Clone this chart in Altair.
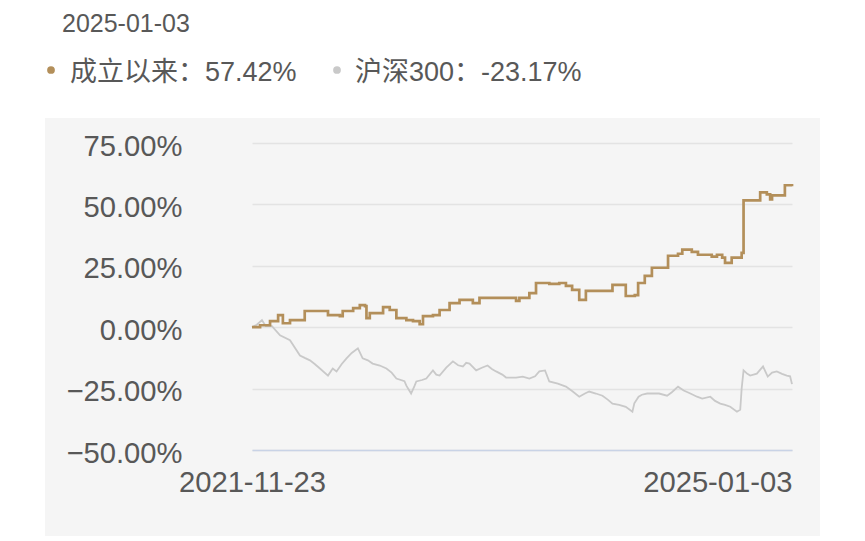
import altair as alt
import pandas as pd

header_date = "2025-01-03"
series_names = ["成立以来：57.42%", "沪深300：-23.17%"]
series_colors = ["#b38f5a", "#c9c9c9"]
y_ticks = [-50, -25, 0, 25, 50, 75]
x_ticks = ["2021-11-23", "2025-01-03"]

fund_dates = [
    "2021-11-23", "2021-12-10", "2021-12-31", "2022-01-17", "2022-01-27", "2022-02-11",
    "2022-03-14", "2022-04-15", "2022-05-02", "2022-05-27", "2022-06-02", "2022-06-24",
    "2022-07-08", "2022-07-19", "2022-07-22", "2022-07-29", "2022-08-12", "2022-08-26",
    "2022-09-09", "2022-09-23", "2022-10-14", "2022-10-28", "2022-11-11", "2022-11-18",
    "2022-12-09", "2022-12-23", "2023-01-13", "2023-02-03", "2023-03-03", "2023-03-17",
    "2023-05-12", "2023-06-02", "2023-06-09", "2023-06-30", "2023-07-14", "2023-08-11",
    "2023-09-01", "2023-09-15", "2023-09-28", "2023-10-13", "2023-10-27", "2023-12-15",
    "2023-12-22", "2024-01-12", "2024-01-19", "2024-02-07", "2024-02-14", "2024-02-28",
    "2024-03-14", "2024-04-10", "2024-04-17", "2024-05-08", "2024-05-17", "2024-06-06",
    "2024-06-19", "2024-07-18", "2024-07-29", "2024-08-09", "2024-08-15", "2024-08-29",
    "2024-09-11", "2024-09-19", "2024-09-23", "2024-10-21", "2024-10-28", "2024-11-11",
    "2024-11-18", "2024-11-22", "2024-12-13", "2024-12-19", "2025-01-03",
]
fund_values = [
    0.0, 0.8, 2.5, 4.9, 1.6, 2.9,
    6.6, 6.6, 4.9, 4.5, 6.6, 7.8,
    9.0, 8.6, 3.7, 5.7, 5.7, 8.2,
    7.0, 3.7, 2.9, 2.5, 1.2, 4.5,
    4.9, 7.0, 9.8, 11.1, 9.8, 11.9,
    11.9, 10.7, 11.9, 13.9, 18.0, 17.6,
    18.0, 16.8, 15.2, 11.1, 14.8, 14.8,
    17.2, 17.2, 12.7, 13.1, 18.0, 20.9,
    24.2, 24.2, 29.1, 29.9, 31.6, 30.7,
    29.5, 28.7, 29.5, 28.3, 26.2, 28.3,
    28.3, 30.3, 51.6, 51.6, 54.9, 54.1,
    52.0, 53.7, 53.7, 57.8, 57.42,
]

index_dates = [
    "2021-11-23", "2021-12-03", "2021-12-14", "2021-12-22", "2022-01-04", "2022-01-21",
    "2022-02-11", "2022-03-04", "2022-03-14", "2022-03-25", "2022-04-04", "2022-04-15",
    "2022-05-02", "2022-05-12", "2022-05-20", "2022-05-31", "2022-06-10", "2022-06-21",
    "2022-07-04", "2022-07-14", "2022-07-25", "2022-08-04", "2022-08-19", "2022-09-02",
    "2022-09-13", "2022-09-23", "2022-10-10", "2022-10-14", "2022-10-24", "2022-10-31",
    "2022-11-04", "2022-11-16", "2022-11-25", "2022-12-09", "2022-12-16", "2022-12-23",
    "2023-01-06", "2023-01-20", "2023-01-31", "2023-02-10", "2023-02-17", "2023-02-24",
    "2023-03-10", "2023-03-22", "2023-04-03", "2023-04-12", "2023-04-21", "2023-05-04",
    "2023-05-12", "2023-05-24", "2023-06-02", "2023-06-16", "2023-06-30", "2023-07-12",
    "2023-07-21", "2023-08-02", "2023-08-11", "2023-08-29", "2023-09-15", "2023-09-28",
    "2023-10-13", "2023-10-25", "2023-11-03", "2023-11-17", "2023-12-01", "2023-12-12",
    "2023-12-22", "2024-01-05", "2024-01-19", "2024-02-02", "2024-02-06", "2024-02-15",
    "2024-02-22", "2024-03-04", "2024-03-15", "2024-03-29", "2024-04-15", "2024-04-25",
    "2024-05-08", "2024-05-20", "2024-06-03", "2024-06-17", "2024-06-28", "2024-07-15",
    "2024-07-25", "2024-08-05", "2024-08-15", "2024-08-26", "2024-09-09", "2024-09-16",
    "2024-09-19", "2024-09-23", "2024-10-01", "2024-10-07", "2024-10-21", "2024-11-03",
    "2024-11-09", "2024-11-13", "2024-11-22", "2024-12-02", "2024-12-13", "2024-12-23",
    "2024-12-30", "2025-01-03",
]
index_values = [
    0.0, 1.0, 2.9, 0.4, 0.4, -3.3,
    -5.3, -11.5, -12.5, -13.5, -15.0, -16.8,
    -19.7, -16.8, -18.0, -15.0, -12.7, -10.5,
    -8.6, -12.7, -13.5, -14.8, -15.6, -16.8,
    -18.5, -20.9, -22.0, -23.8, -27.0, -24.0,
    -22.1, -21.5, -20.9, -17.6, -19.3, -19.7,
    -16.5, -13.9, -15.5, -16.0, -14.5, -14.8,
    -17.6, -16.5, -15.6, -17.0, -18.0, -19.3,
    -20.5, -20.5, -20.5, -20.1, -20.9, -20.0,
    -18.0, -17.6, -22.1, -23.0, -24.2, -26.0,
    -28.3, -27.0, -26.2, -27.0, -27.9, -29.5,
    -31.1, -31.6, -32.4, -34.4, -31.0, -28.3,
    -27.5, -27.0, -27.0, -27.0, -27.9, -26.5,
    -24.2, -25.8, -27.0, -28.3, -29.1, -28.3,
    -30.0, -31.1, -31.6, -32.4, -34.4, -33.6,
    -25.0, -17.6, -19.0, -19.7, -18.9, -16.0,
    -18.5, -20.1, -18.5, -18.0, -19.0, -19.7,
    -20.0, -23.17,
]

FONT = "Liberation Sans, Noto Sans CJK SC, sans-serif"
TEXT = "#585858"

# layout (pixels)
LEFT, TOP, W, H = 252, 143, 540, 307
TOTAL_W, TOTAL_H = 865, 541


def dt(s):
    y, m, d = (int(p) for p in s.split("-"))
    return alt.DateTime(year=y, month=m, date=d, utc=True)


mid_ms = pd.Timestamp("2023-06-01").value // 10**6

fund = pd.DataFrame({"date": fund_dates, "value": fund_values})
idx = pd.DataFrame({"date": index_dates, "value": index_values})

x_enc = alt.X(
    "date:T",
    scale=alt.Scale(type="utc", domain=[dt(x_ticks[0]), dt(x_ticks[-1])]),
    axis=alt.Axis(
        values=[dt(s) for s in x_ticks],
        labelExpr="utcFormat(datum.value, '%Y-%m-%d')",
        labelAlign={"condition": {"test": f"datum.value > {mid_ms}", "value": "right"}, "value": "center"},
        labelFontSize=29.2,
        labelFont=FONT,
        labelColor=TEXT,
        labelPadding=18,
        labelOverlap=False,
        labelFlush=False,
        labelBound=False,
        ticks=False,
        grid=False,
        domain=True,
        domainColor="#c9d3e6",
        domainWidth=1.5,
        zindex=1,
    ),
    title=None,
)
y_enc = alt.Y(
    "value:Q",
    scale=alt.Scale(domain=[y_ticks[0], y_ticks[-1]], nice=False, zero=False),
    axis=alt.Axis(
        values=y_ticks,
        labelExpr="format(datum.value, '.2f') + '%'",
        labelFontSize=29.2,
        labelFont=FONT,
        labelColor=TEXT,
        labelPadding=70,
        labelOffset=3,
        ticks=False,
        domain=False,
        grid=True,
        gridColor="#e3e3e3",
        gridWidth=1.3,
    ),
    title=None,
)

dummy = pd.DataFrame({"k": [0]})


def band(x0, x1, y0, y1):
    return alt.Chart(dummy).mark_rect(color="white").encode(
        x=alt.value(x0 - LEFT), x2=alt.value(x1 - LEFT),
        y=alt.value(y0 - TOP), y2=alt.value(y1 - TOP),
    )


bands = [
    band(0, TOTAL_W, 0, 118),
    band(0, 45, 0, TOTAL_H),
    band(820, TOTAL_W, 0, TOTAL_H),
    band(0, TOTAL_W, 536, TOTAL_H),
]


def label(text, x, y, size):
    return alt.Chart(pd.DataFrame({"t": [text]})).mark_text(
        align="left", baseline="alphabetic", fontSize=size, font=FONT, color=TEXT
    ).encode(x=alt.value(x - LEFT), y=alt.value(y - TOP), text="t:N")


def dot(color, x, y):
    return alt.Chart(dummy).mark_circle(color=color, size=60, opacity=1).encode(
        x=alt.value(x - LEFT), y=alt.value(y - TOP)
    )


header = label(header_date, 62, 32, 25)
legend_layers = [
    dot(series_colors[0], 51, 70),
    label(series_names[0], 70, 81, 27),
    dot(series_colors[1], 337, 70),
    label(series_names[1], 355, 81, 27),
]

gray_line = alt.Chart(idx).mark_line(
    strokeWidth=1.8, interpolate="linear", color=series_colors[1]
).encode(x=x_enc, y=y_enc)
gold_line = alt.Chart(fund).mark_line(
    strokeWidth=2.7, interpolate="step-after", color=series_colors[0]
).encode(x=x_enc, y=y_enc)

chart = alt.layer(*bands, gray_line, gold_line, header, *legend_layers).properties(
    width=W,
    height=H,
    background="#f5f5f5",
    autosize=alt.AutoSizeParams(type="none"),
    padding={"left": LEFT, "top": TOP, "right": TOTAL_W - LEFT - W, "bottom": TOTAL_H - TOP - H},
).configure_view(stroke=None)

chart.save("out.html", embed_options={"renderer": "svg", "actions": False})
